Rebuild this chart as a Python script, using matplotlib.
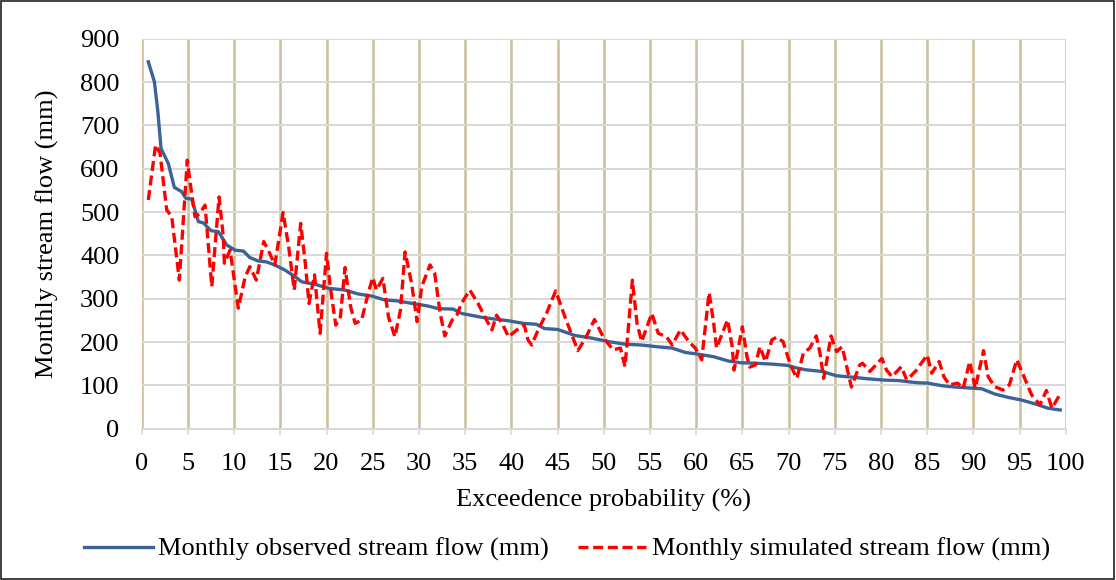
import matplotlib
matplotlib.use("Agg")
import matplotlib.pyplot as plt
from matplotlib.patches import Rectangle

plt.rcParams['font.family'] = ['Liberation Serif', 'DejaVu Serif']

# Observed flow duration curve
obs_x = [0.71, 1.37, 1.73, 2.09, 2.88, 3.53, 4.33, 4.76, 5.41, 6.13, 6.67, 7.5, 8.29, 9.2,
         10.1, 11.0, 11.7, 12.6, 13.5, 14.4, 15.5, 16.6, 17.3, 18.8, 20.2, 22.0, 23.4, 24.9,
         26.3, 27.6, 29.6, 31.0, 32.1, 33.7, 34.6, 36.8, 38.2, 39.7, 41.3, 42.7, 43.6, 45.0,
         46.9, 48.7, 50.5, 52.3, 54.1, 55.8, 57.4, 58.8, 60.2, 61.9, 63.5, 64.9, 66.4, 68.2,
         69.9, 70.7, 71.8, 73.6, 75.2, 76.8, 78.6, 80.4, 81.9, 83.0, 84.0, 85.1, 86.6, 88.0,
         90.9, 92.3, 93.8, 95.2, 96.7, 98.1, 99.4]
obs_y = [847, 801, 735, 647, 612, 557, 547, 532, 530, 478, 475, 457, 455, 424,
         412, 410, 395, 387, 385, 378, 366, 351, 339, 333, 324, 320, 311, 306,
         297, 295, 288, 283, 277, 276, 266, 257, 253, 249, 243, 241, 231, 229,
         215, 209, 201, 195, 193, 189, 186, 176, 172, 166, 156, 152, 151, 149,
         146, 141, 136, 132, 122, 119, 115, 112, 111, 108, 106, 105, 99, 96,
         92, 80, 72, 66, 57, 47, 43]

# Simulated flow
sim_x = [0.71, 1.5, 1.98, 2.7, 3.25, 4.07, 4.93, 5.2, 5.77, 6.3, 6.85, 7.58, 8.37, 8.83,
         8.94, 9.56, 10.45, 11.2, 11.7, 12.4, 13.2, 13.7, 14.4, 15.3, 15.9, 16.5, 17.2, 17.7,
         18.1, 18.7, 19.3, 20.0, 20.4, 21.0, 21.5, 22.0, 22.6, 23.1, 23.8, 24.5, 25.0, 25.4,
         26.1, 26.7, 27.4, 28.0, 28.5, 29.2, 29.8, 30.3, 31.2, 31.7, 32.3, 32.8, 33.6, 34.1,
         34.6, 35.5, 36.4, 37.3, 37.9, 38.4, 39.0, 39.7, 40.6, 41.4, 41.8, 42.2, 42.9, 43.8,
         44.8, 45.8, 47.2, 48.1, 49.0, 50.0, 51.0, 51.8, 52.3, 53.1, 53.6, 54.1, 55.2, 55.9,
         56.8, 57.4, 58.3, 59.2, 59.9, 60.6, 61.4, 61.9, 62.2, 63.4, 63.9, 64.1, 65.0, 65.5,
         65.8, 66.4, 66.9, 67.5, 68.2, 68.7, 69.4, 70.2, 70.9, 71.6, 72.3, 73.0, 73.4, 73.8,
         74.6, 75.2, 75.8, 76.3, 76.8, 77.7, 78.0, 78.8, 80.1, 80.6, 81.2, 82.2, 82.8, 83.8,
         85.0, 85.5, 86.3, 86.8, 87.4, 88.3, 88.9, 89.6, 90.2, 91.1, 91.6, 92.3, 93.2, 93.9,
         94.7, 95.4, 96.3, 97.2, 97.9, 98.5, 99.4]
sim_y = [528, 655, 636, 505, 489, 343, 620, 574, 489, 497, 516, 328, 535, 443,
         382, 412, 278, 351, 374, 343, 432, 412, 378, 499, 420, 320, 474, 382,
         289, 355, 220, 405, 328, 239, 258, 372, 282, 243, 251, 312, 349, 320,
         347, 258, 212, 274, 408, 336, 247, 328, 378, 359, 266, 214, 251, 262,
         289, 320, 289, 251, 228, 262, 243, 212, 228, 239, 205, 193, 228, 266,
         318, 258, 180, 212, 252, 209, 182, 186, 143, 343, 243, 201, 266, 220,
         212, 193, 228, 201, 186, 159, 314, 243, 186, 251, 189, 135, 235, 166,
         142, 147, 189, 155, 205, 211, 201, 147, 116, 174, 186, 214, 174, 116,
         214, 178, 189, 143, 96, 147, 151, 132, 162, 135, 120, 143, 112, 134,
         170, 128, 155, 120, 101, 105, 93, 155, 93, 180, 120, 97, 89, 101,
         159, 124, 78, 55, 88, 47, 80]

x_ticks = list(range(0, 101, 5))
y_ticks = list(range(0, 901, 100))

fs = 19

fig = plt.figure(figsize=(11.16, 5.8), dpi=100)
ax = fig.add_axes([0.127, 0.261, 0.828, 0.672])

ax.plot(obs_x, obs_y, color='#3B6397', lw=2.4, solid_joinstyle='round',
        label='Monthly observed stream flow (mm)', zorder=3)
ax.plot(sim_x, sim_y, color='#FF0000', lw=2.4, dashes=(3, 1.4),
        label='Monthly simulated stream flow (mm)', zorder=4)

ax.set_xlim(0, 100)
ax.set_ylim(0, 900)
ax.set_xticks(x_ticks)
ax.set_yticks(y_ticks)
ax.tick_params(axis='both', labelsize=fs, colors='black')
ax.tick_params(axis='x', length=4.5, color='#D9D9D9', width=1.2, pad=13)
ax.tick_params(axis='y', length=0, pad=16)

ax.grid(axis='y', color='#D9D9D9', lw=1.5, zorder=0)
ax.grid(axis='x', color='#C9BF98', lw=1.8, zorder=1)
for s in ['top', 'right', 'left']:
    ax.spines[s].set_visible(False)
ax.spines['bottom'].set_color('#D9D9D9')
ax.spines['bottom'].set_linewidth(1.5)

ax.set_xlabel('Exceedence probability (%)', fontsize=fs, labelpad=10)
ax.set_ylabel('Monthly stream flow (mm)', fontsize=fs, labelpad=15)

fig.legend(loc='center', bbox_to_anchor=(0.508, 0.053), ncol=2, frameon=False,
           fontsize=fs, handlelength=2.6, columnspacing=1.1, handletextpad=0.2)

fig.patches.append(Rectangle((0.001, 0.002), 0.997, 0.996, transform=fig.transFigure,
                             fill=False, edgecolor='#202020', lw=1.2))

fig.savefig('out.png', dpi=100)
